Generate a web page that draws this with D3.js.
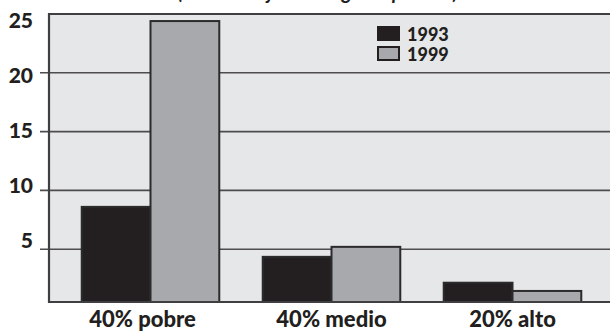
<!DOCTYPE html>
<html>
<head>
<meta charset="utf-8">
<script src="https://cdn.jsdelivr.net/npm/d3@7"></script>
<style>
  html, body { margin: 0; padding: 0; background: #fff; }
  svg { display: block; }
  text { font-family: Lato, "Open Sans", sans-serif; fill: #231f20; }
</style>
</head>
<body>
<svg id="chart" width="610" height="332"></svg>
<script>
// Data
const categories = ["40% pobre", "40% medio", "20% alto"];
const years = ["1993", "1999"];
const values1993 = [8.6, 4.35, 2.15];
const values1999 = [24.4, 5.2, 1.45];
const tickValues = [5, 10, 15, 20, 25];
const subtitle = "(en % del ajuste del gasto público)";

const seriesValues = { "1993": values1993, "1999": values1999 };
const colors = { "1993": "#231f20", "1999": "#a7a9ac" };

const W = 610, H = 332;
const plot = { left: 49, top: 14, right: 612, bottom: 302 };

const svg = d3.select("#chart");

// Scales
const y = d3.scaleLinear().domain([0, 25]).range([308, plot.top]);
const yLabel = d3.scaleLinear().domain([0, 25]).range([295, 20]);
const x0 = d3.scaleBand().domain(categories).range([60, 603])
  .paddingInner(0.24).paddingOuter(0.12);
const x1 = d3.scaleBand().domain(years).range([0, x0.bandwidth()]).padding(0);

// Subtitle (only its descenders fall inside the page)
svg.append("text")
  .attr("x", 318).attr("y", -1)
  .attr("text-anchor", "middle")
  .style("font-size", "20px").style("font-weight", 700).style("font-style", "italic")
  .text(subtitle);

// Plot background
svg.append("rect")
  .attr("x", plot.left).attr("y", plot.top)
  .attr("width", plot.right - plot.left).attr("height", plot.bottom - plot.top)
  .attr("fill", "#e6e7e8");

// Gridlines with outside tick stubs
svg.append("g").selectAll("line")
  .data(tickValues.filter(v => v < 25))
  .join("line")
  .attr("x1", 40).attr("x2", W)
  .attr("y1", d => y(d)).attr("y2", d => y(d))
  .attr("stroke", "#4d4d4f").attr("stroke-width", 1.6);

// Tick labels
svg.append("g").selectAll("text")
  .data(tickValues)
  .join("text")
  .attr("x", 33).attr("y", d => yLabel(d))
  .attr("dy", "0.36em")
  .attr("text-anchor", "end")
  .style("font-size", "21px").style("font-weight", 900)
  .text(d => d);

// Bars
const groups = svg.append("g").selectAll("g")
  .data(categories)
  .join("g")
  .attr("transform", d => `translate(${x0(d)},0)`);

groups.selectAll("rect")
  .data((c, i) => years.map(yr => ({ year: yr, value: seriesValues[yr][i] })))
  .join("rect")
  .attr("x", d => x1(d.year))
  .attr("y", d => y(d.value))
  .attr("width", x1.bandwidth())
  .attr("height", d => plot.bottom - y(d.value))
  .attr("fill", d => colors[d.year])
  .attr("stroke", "#2b2b2c").attr("stroke-width", 2);

// Frame: left, top, bottom
const frame = svg.append("g").attr("stroke", "#3f3f41").attr("stroke-width", 2.2).attr("fill", "none");
frame.append("path")
  .attr("d", `M${plot.right},${plot.top} H${plot.left} V${plot.bottom} H${plot.right}`);

// Legend
const legend = svg.append("g").attr("transform", "translate(378,27)");
years.forEach((yr, i) => {
  const g = legend.append("g").attr("transform", `translate(0,${i * 20})`);
  g.append("rect")
    .attr("x", 0).attr("y", 0).attr("width", 21).attr("height", 13)
    .attr("fill", colors[yr]).attr("stroke", "#231f20").attr("stroke-width", 2);
  g.append("text")
    .attr("x", 29).attr("y", 13.5)
    .style("font-size", "18px").style("font-weight", 900)
    .text(yr);
});

// Category labels
svg.append("g").selectAll("text")
  .data(categories)
  .join("text")
  .attr("x", (d, i) => x0(d) + x0.bandwidth() / 2 - (i === 0 ? 8 : 0))
  .attr("y", 327)
  .attr("text-anchor", "middle")
  .style("font-size", "22px").style("font-weight", 900)
  .text(d => d);
</script>
</body>
</html>
